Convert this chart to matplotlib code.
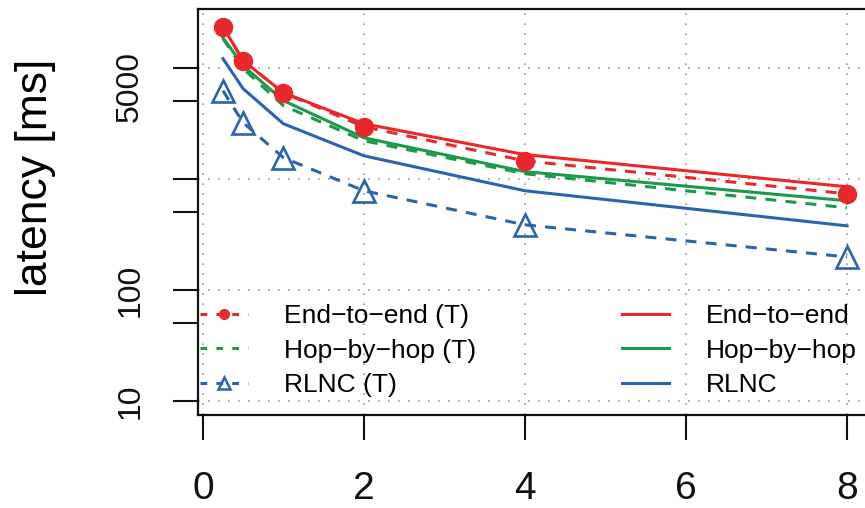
#! /usr/bin/env python3
"""Latency vs. x for end-to-end, hop-by-hop and RLNC (theory and simulation)."""

import matplotlib
matplotlib.use("Agg")
import matplotlib.pyplot as plt
import matplotlib.transforms as mtransforms
from matplotlib.lines import Line2D

# x positions shared by all series
x_vals = [0.25, 0.5, 1, 2, 4, 8]

# theoretical (T) curves, dashed
e2e_theory = [23400, 11560, 5950, 2940, 1450, 733]
hbh_theory = [18250, 9800, 4550, 2200, 1110, 548]
rlnc_theory = [6200, 3200, 1550, 780, 385, 198]

# measured curves, solid
e2e_meas = [23400, 11560, 5950, 3130, 1650, 847]
hbh_meas = [18620, 10420, 5050, 2340, 1160, 634]
rlnc_meas = [12050, 6470, 3130, 1610, 780, 377]

x_ticks = [0, 2, 4, 6, 8]
y_ticks = [10, 50, 100, 500, 1000, 5000, 10000]
y_tick_labels = ["10", "", "100", "", "", "5000", ""]
y_grid = [10, 100, 1000, 10000]

RED = "#E8282B"
GREEN = "#1A9A4A"
BLUE = "#2B63AF"

plt.rcParams["font.family"] = ["Liberation Sans", "DejaVu Sans"]

W, H = 865, 508
fig = plt.figure(figsize=(W / 100, H / 100), dpi=100)
# plot box: left 198px, top 9px, bottom 415px, right edge cut off by the figure
ax = fig.add_axes([198 / W, (H - 415) / H, 674 / W, 406 / H])

lw = 2.2
dash = (3.6, 3.0)

ax.plot(x_vals, rlnc_meas, color=BLUE, lw=lw, zorder=3)
ax.plot(x_vals, hbh_meas, color=GREEN, lw=lw, zorder=3)
ax.plot(x_vals, e2e_meas, color=RED, lw=lw, zorder=3)
ax.plot(x_vals, rlnc_theory, color=BLUE, lw=lw, dashes=dash, marker="^",
        markersize=16, markerfacecolor="none", markeredgewidth=1.9, zorder=4)
ax.plot(x_vals, hbh_theory, color=GREEN, lw=lw, dashes=dash, zorder=4)
ax.plot(x_vals, e2e_theory, color=RED, lw=lw, dashes=dash, marker="o",
        markersize=13, zorder=5)

ax.set_yscale("log")
ax.set_xlim(-0.06, 8.31)
ax.set_ylim(10 ** 0.874, 10 ** 4.528)

ax.set_xticks(x_ticks)
ax.set_xticklabels([str(v) for v in x_ticks], fontsize=28)
ax.set_yticks(y_ticks)
ax.set_yticklabels(y_tick_labels, fontsize=23, rotation=90, va="center")
ax.yaxis.set_minor_locator(matplotlib.ticker.NullLocator())
ax.tick_params(axis="both", direction="out", length=18, width=1.5, colors="#111111")
ax.tick_params(axis="x", pad=22)
ax.tick_params(axis="y", pad=20)

# the "5000" label sits a little above its tick in the original
for lab in ax.get_yticklabels():
    if lab.get_text() == "5000":
        lab.set_transform(lab.get_transform() + mtransforms.ScaledTranslation(0, 15 / 100, fig.dpi_scale_trans))

# dotted reference grid
for gx in x_ticks:
    ax.axvline(gx, color="#999999", lw=1.2, ls=(0, (1, 5)), zorder=1)
for gy in y_grid:
    ax.axhline(gy, color="#999999", lw=1.2, ls=(0, (1, 5)), zorder=1)

for side in ax.spines.values():
    side.set_linewidth(1.6)
    side.set_color("#111111")

ax.set_ylabel("latency [ms]", fontsize=32, va="center")
ax.yaxis.set_label_coords(36 / W, 1 - 177 / H, transform=fig.transFigure)

handles = [
    Line2D([], [], color=RED, lw=lw, dashes=(2.2, 3.0), marker="o", markersize=7),
    Line2D([], [], color=GREEN, lw=lw, dashes=(2.2, 3.0)),
    Line2D([], [], color=BLUE, lw=lw, dashes=(2.2, 3.0), marker="^",
           markersize=9, markerfacecolor="none", markeredgewidth=1.8),
    Line2D([], [], color=RED, lw=lw),
    Line2D([], [], color=GREEN, lw=lw),
    Line2D([], [], color=BLUE, lw=lw),
]
labels = ["End\u2212to\u2212end (T)", "Hop\u2212by\u2212hop (T)", "RLNC (T)",
          "End\u2212to\u2212end", "Hop\u2212by\u2212hop", "RLNC"]
ax.legend(handles, labels, ncol=2, frameon=False, fontsize=19,
          loc="upper left", bbox_to_anchor=(200 / W, 1 - 304 / H),
          bbox_transform=fig.transFigure, borderpad=0, borderaxespad=0,
          handlelength=1.8, handletextpad=1.4, columnspacing=5.5,
          labelspacing=0.4)

fig.savefig("out.png", dpi=100)
